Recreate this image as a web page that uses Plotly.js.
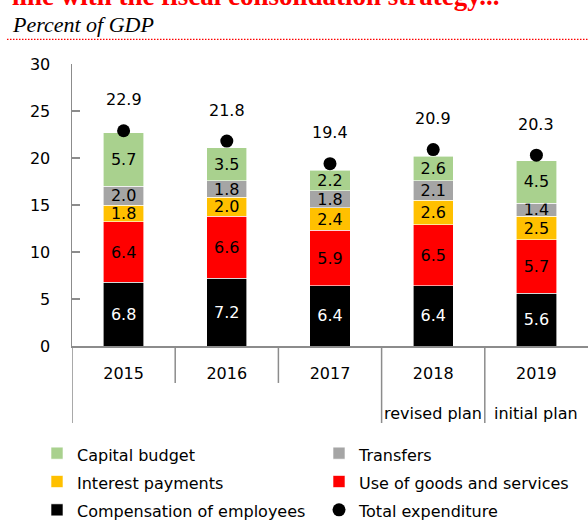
<!DOCTYPE html>
<html>
<head>
<meta charset="utf-8">
<script src="https://cdn.plot.ly/plotly-3.0.1.min.js"></script>
<style>html,body{margin:0;padding:0;background:#fff;overflow:hidden}#chart{width:588px;height:521px}</style>
</head>
<body>
<div id="chart"></div>
<script>
const years = ['2015', '2016', '2017', '2018', '2019'];
const planNotes = ['', '', '', 'revised plan', 'initial plan'];
const compensation = [6.8, 7.2, 6.4, 6.4, 5.6];
const goodsServices = [6.4, 6.6, 5.9, 6.5, 5.7];
const interest = [1.8, 2.0, 2.4, 2.6, 2.5];
const transfers = [2.0, 1.8, 1.8, 2.1, 1.4];
const capital = [5.7, 3.5, 2.2, 2.6, 4.5];
const totalExp = [22.9, 21.8, 19.4, 20.9, 20.3];

const FONT = 'DejaVu Sans, sans-serif';
const GREY = '#8c8c8c';

function legendName(s) { return '<span style="font-size:16px">' + s + '</span>'; }

function barTrace(name, vals, color, textColor, rank) {
  return {
    type: 'bar', name: legendName(name), x: years, y: vals,
    marker: {color: color, line: {color: '#ffffff', width: 0.6}},
    width: 0.39,
    texttemplate: '%{y:.1f}',
    textposition: 'inside',
    insidetextanchor: 'middle',
    textangle: 0,
    constraintext: 'none',
    insidetextfont: {family: FONT, size: 16, color: textColor},
    legendrank: rank,
    hoverinfo: 'skip'
  };
}

const traces = [
  barTrace('Compensation of employees', compensation, '#000000', '#ffffff', 5),
  barTrace('Use of goods and services', goodsServices, '#ff0000', '#000000', 4),
  barTrace('Interest payments', interest, '#ffc000', '#000000', 3),
  barTrace('Transfers', transfers, '#a5a5a5', '#000000', 2),
  barTrace('Capital budget', capital, '#a9d18e', '#000000', 1),
  {
    type: 'scatter', mode: 'markers', name: legendName('Total expenditure'),
    x: years, y: totalExp,
    marker: {color: '#000000', size: 13},
    legendrank: 6, hoverinfo: 'skip'
  }
];

const annotations = [];
totalExp.forEach((v, i) => {
  annotations.push({
    x: i, y: v, xref: 'x', yref: 'y', yshift: 31,
    text: v.toFixed(1), showarrow: false,
    font: {family: FONT, size: 16, color: '#000'}
  });
});
planNotes.forEach((t, i) => {
  if (t) annotations.push({
    x: i, y: -0.238, xref: 'x', yref: 'paper',
    text: t, showarrow: false, yanchor: 'middle',
    font: {family: FONT, size: 16, color: '#000'}
  });
});
annotations.push({
  x: -0.12, xref: 'paper', xanchor: 'left', y: 1.2394, yref: 'paper', yanchor: 'middle',
  text: '<b>line with the fiscal consolidation strategy...</b>', showarrow: false,
  font: {family: 'Liberation Serif, serif', size: 27, color: '#ff0000'}
});
annotations.push({
  x: -0.12, xref: 'paper', xanchor: 'left', y: 1.141, yref: 'paper', yanchor: 'middle',
  text: '<i>Percent of GDP</i>', showarrow: false,
  font: {family: 'Liberation Serif, serif', size: 22, color: '#000'}
});

const shapes = [
  {type: 'line', xref: 'paper', yref: 'paper', x0: -0.126, x1: 1, y0: 1.087, y1: 1.087,
   line: {color: '#ff0000', width: 1.3, dash: '1.5px,1.5px'}},
  {type: 'line', xref: 'x', yref: 'paper', x0: -0.5, x1: -0.5, y0: 0, y1: -0.273, line: {color: GREY, width: 1.5}},
  {type: 'line', xref: 'x', yref: 'paper', x0: 0.5, x1: 0.5, y0: 0, y1: -0.131, line: {color: GREY, width: 1.5}},
  {type: 'line', xref: 'x', yref: 'paper', x0: 1.5, x1: 1.5, y0: 0, y1: -0.131, line: {color: GREY, width: 1.5}},
  {type: 'line', xref: 'x', yref: 'paper', x0: 2.5, x1: 2.5, y0: 0, y1: -0.273, line: {color: GREY, width: 1.5}},
  {type: 'line', xref: 'x', yref: 'paper', x0: 3.5, x1: 3.5, y0: 0, y1: -0.273, line: {color: GREY, width: 1.5}}
];

const layout = {
  width: 588, height: 521,
  margin: {l: 72, r: 0, t: 64, b: 175, autoexpand: false},
  paper_bgcolor: '#fff', plot_bgcolor: '#fff',
  font: {family: FONT, size: 16, color: '#000'},
  barmode: 'stack',
  showlegend: true,
  xaxis: {
    type: 'category', range: [-0.5, 4.5], showgrid: false, zeroline: false,
    showline: true, linecolor: GREY, linewidth: 1.5, ticks: '',
    ticklabelstandoff: 12, tickfont: {family: FONT, size: 16, color: '#000'}
  },
  yaxis: {
    range: [0, 30], dtick: 5, showgrid: false, zeroline: false,
    showline: true, linecolor: GREY, linewidth: 1.5,
    ticks: 'inside', ticklen: 8, tickwidth: 1.5, tickcolor: GREY,
    ticklabelstandoff: 17, tickfont: {family: FONT, size: 16, color: '#000'}
  },
  legend: {
    orientation: 'h', traceorder: 'normal', xref: 'paper', x: -0.0678, xanchor: 'left',
    yref: 'paper', y: -0.312, yanchor: 'top',
    entrywidth: 237, entrywidthmode: 'pixels',
    font: {family: FONT, size: 19.5, color: '#000'},
    bgcolor: 'rgba(0,0,0,0)'
  },
  annotations: annotations,
  shapes: shapes
};

Plotly.newPlot('chart', traces, layout, {displayModeBar: false, staticPlot: true});
</script>
</body>
</html>
